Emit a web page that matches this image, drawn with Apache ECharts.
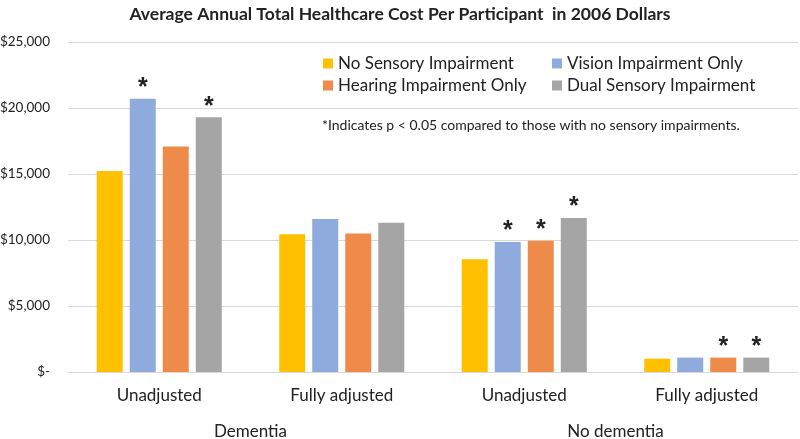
<!DOCTYPE html>
<html><head><meta charset="utf-8">
<script src="https://cdn.jsdelivr.net/npm/echarts@6/dist/echarts.min.js"></script>
<style>html,body{margin:0;padding:0;background:#fff}#c{width:800px;height:439px}</style>
</head><body><div id="c"></div>
<script>
const subCategories = ['Unadjusted', 'Fully adjusted', 'Unadjusted', 'Fully adjusted'];
const groupCategories = ['Dementia', 'No dementia'];
const seriesNames = ['No Sensory Impairment', 'Vision Impairment Only', 'Hearing Impairment Only', 'Dual Sensory Impairment'];
const noSensory = [15230, 10430, 8540, 1010];
const visionOnly = [20700, 11600, 9850, 1090];
const hearingOnly = [17080, 10500, 9950, 1090];
const dualSensory = [19300, 11300, 11670, 1090];
const sigNoSensory = [0, 0, 0, 0];
const sigVision = [1, 0, 1, 0];
const sigHearing = [0, 0, 1, 1];
const sigDual = [1, 0, 1, 1];
const yTicks = [0, 5000, 10000, 15000, 20000, 25000];
const colors = ['#FFC000', '#8FAADC', '#EE8B4A', '#A5A5A5'];
const titleText = 'Average Annual Total Healthcare Cost Per Participant  in 2006 Dollars';
const noteText = '*Indicates p < 0.05 compared to those with no sensory impairments.';

const FONT = 'Lato';
const values = [noSensory, visionOnly, hearingOnly, dualSensory];
const sigs = [sigNoSensory, sigVision, sigHearing, sigDual];

const chart = echarts.init(document.getElementById('c'), null, {renderer: 'canvas'});
chart.setOption({
  animation: false,
  backgroundColor: '#fff',
  textStyle: {fontFamily: FONT},
  title: [{
    text: titleText, left: 'center', top: 0,
    textStyle: {fontFamily: FONT, fontWeight: 'bold', fontSize: 17.5, color: '#222'}
  }, {
    text: noteText, left: 317, top: 113,
    textStyle: {fontFamily: FONT, fontWeight: 'normal', fontSize: 14, color: '#222'}
  }],
  legend: {
    left: 318, top: 50, width: 480, orient: 'horizontal',
    itemWidth: 10, itemHeight: 10, itemGap: 5,
    data: [seriesNames[0], seriesNames[1], seriesNames[2], seriesNames[3]],
    textStyle: {fontFamily: FONT, fontSize: 17, lineHeight: 16, color: '#222', width: 209, overflow: 'none', padding: [0, 0, 0, 0]},
    icon: 'rect'
  },
  grid: {left: 68, right: 2, top: 42, bottom: 67, outerBoundsMode: 'none', containLabel: false},
  xAxis: [{
    type: 'category', data: subCategories, position: 'bottom',
    axisLine: {lineStyle: {color: '#d9d9d9'}}, axisTick: {show: false},
    axisLabel: {fontFamily: FONT, fontSize: 17, color: '#222', margin: 15}
  }, {
    type: 'category', data: groupCategories, position: 'bottom', offset: 36,
    axisLine: {show: false}, axisTick: {show: false},
    axisLabel: {fontFamily: FONT, fontSize: 17, color: '#222', margin: 15}
  }],
  yAxis: {
    type: 'value', min: 0, max: 25000, interval: 5000,
    axisLine: {show: false}, axisTick: {show: false},
    splitLine: {lineStyle: {color: '#d9d9d9', width: 1}},
    axisLabel: {
      fontFamily: FONT, fontSize: 13.5, color: '#222', margin: 18,
      formatter: function (v) { return v === 0 ? '$-' : '$' + v.toLocaleString('en-US'); }
    }
  },
  series: values.map(function (arr, si) {
    return {
      name: seriesNames[si], type: 'bar', xAxisIndex: 0,
      barWidth: 26, barGap: '27%',
      itemStyle: {color: colors[si]},
      data: arr.map(function (v, i) {
        return {
          value: v,
          label: {
            show: sigs[si][i] === 1, position: 'top', distance: -2,
            formatter: '*', fontFamily: 'Liberation Sans', fontWeight: 'bold', fontSize: 25, color: '#222'
          }
        };
      })
    };
  })
});
</script></body></html>
